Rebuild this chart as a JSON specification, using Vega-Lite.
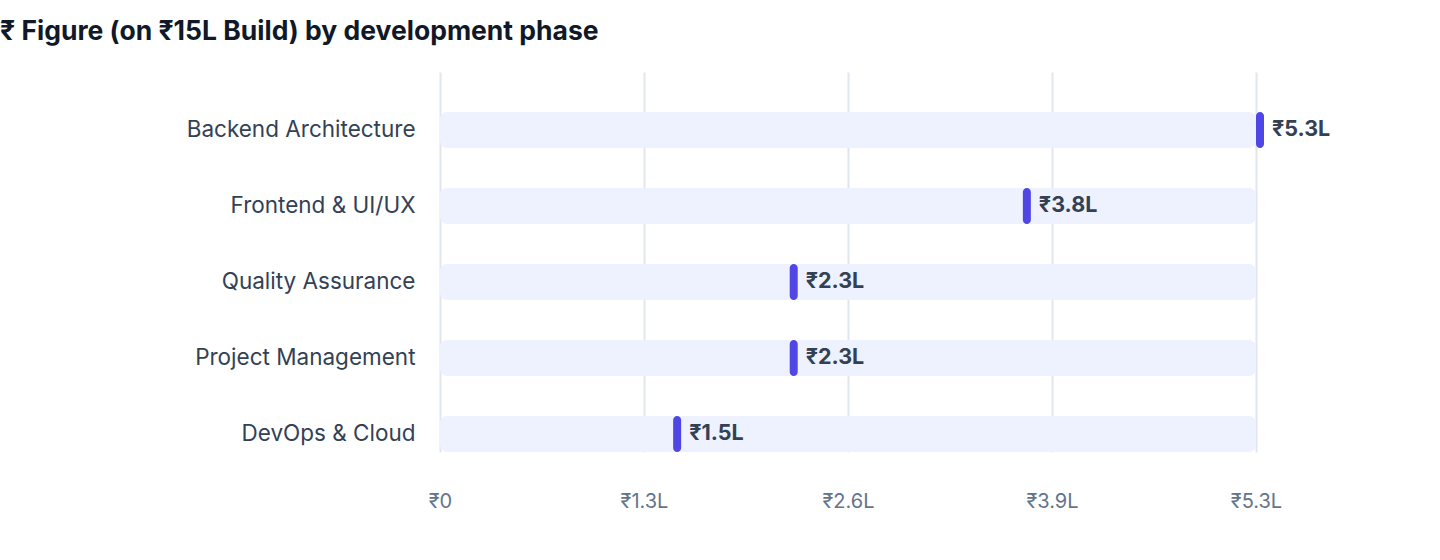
{
  "$schema": "https://vega.github.io/schema/vega-lite/v6.json",
  "autosize": "none",
  "width": 816,
  "height": 400,
  "padding": {"left": 440, "top": 72, "right": 184, "bottom": 88},
  "background": "white",
  "title": {
    "text": "₹ Figure (on ₹15L Build) by development phase",
    "anchor": "start",
    "frame": "group",
    "dx": -440,
    "offset": 27,
    "font": "Inter",
    "fontSize": 26.5,
    "fontWeight": "bold",
    "color": "#111827"
  },
  "data": {
    "values": [
      {"phase": "Backend Architecture", "amount": 5.25, "label": "₹5.3L"},
      {"phase": "Frontend & UI/UX", "amount": 3.75, "label": "₹3.8L"},
      {"phase": "Quality Assurance", "amount": 2.25, "label": "₹2.3L"},
      {"phase": "Project Management", "amount": 2.25, "label": "₹2.3L"},
      {"phase": "DevOps & Cloud", "amount": 1.5, "label": "₹1.5L"}
    ]
  },
  "encoding": {
    "y": {
      "field": "phase",
      "type": "nominal",
      "sort": null,
      "title": null,
      "scale": {"range": [20, 400], "paddingInner": 0.526, "paddingOuter": 0.263},
      "axis": {
        "domain": false,
        "ticks": false,
        "grid": false,
        "labelPadding": 25,
        "labelFont": "Inter",
        "labelFontSize": 22.5,
        "labelColor": "#334155",
        "labelLimit": 400
      }
    }
  },
  "layer": [
    {
      "mark": {"type": "bar", "color": "#eef1fe", "cornerRadius": 7},
      "encoding": {
        "x": {
          "datum": 0,
          "type": "quantitative",
          "scale": {"domain": [0, 5.25], "nice": false},
          "title": null,
          "axis": {
            "values": [0, 1.3125, 2.625, 3.9375, 5.25],
            "labelExpr": "datum.value == 0 ? '₹0' : '₹' + format(datum.value, '.1f') + 'L'",
            "domain": false,
            "ticks": false,
            "grid": true,
            "gridColor": "#e2e6ee",
            "gridWidth": 2,
            "labelFlush": false,
            "labelPadding": 19,
            "labelFont": "Inter",
            "labelFontSize": 20,
            "labelColor": "#64748b"
          }
        },
        "x2": {"datum": 5.25}
      }
    },
    {
      "mark": {"type": "tick", "color": "#4f46e5", "opacity": 1, "thickness": 8, "size": 36, "cornerRadius": 4, "xOffset": 4},
      "encoding": {
        "x": {"field": "amount", "type": "quantitative", "title": null}
      }
    },
    {
      "mark": {
        "type": "text",
        "align": "left",
        "baseline": "middle",
        "dx": 16,
        "font": "Inter",
        "fontSize": 21.5,
        "fontWeight": "bold",
        "color": "#334155"
      },
      "encoding": {
        "x": {"field": "amount", "type": "quantitative", "title": null},
        "text": {"field": "label", "type": "nominal"}
      }
    }
  ],
  "config": {"view": {"stroke": null}}
}
